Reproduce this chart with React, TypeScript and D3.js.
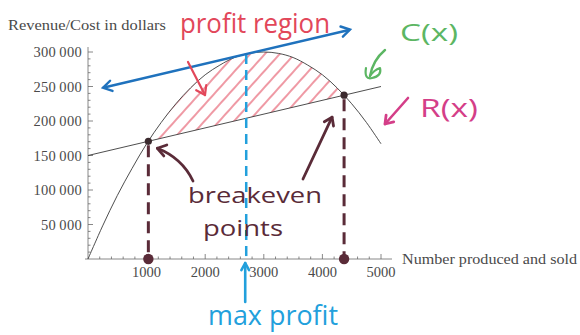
import React from "react";
import * as d3 from "d3";

// Units produced and sold, sampled along the revenue curve
const units = [0, 250, 500, 750, 1000, 1250, 1500, 1750, 2000, 2250, 2500, 2750, 3000, 3250, 3500, 3750, 4000, 4250, 4500, 4750, 5000];
// Revenue R(x) in dollars at each sample
const revenue = [0, 48000, 92000, 131000, 167000, 198000, 225000, 248000, 267000, 281000, 292000, 298000, 300000, 298000, 292000, 281000, 267000, 248000, 225000, 198000, 167000];
// Cost C(x): straight line
const costUnits = [0, 5000];
const cost = [150000, 250000];
// Break-even points (R = C)
const breakevenUnits = [1030, 4370];
const breakevenValues = [170600, 237400];
// Maximum profit: tangent to R(x) parallel to C(x)
const maxProfitUnits = 2700;
const maxProfitRevenue = 297000;
const tangentUnits = [256, 4471];
const tangentValues = [248100, 332400];

const xTicks = [1000, 2000, 3000, 4000, 5000];
const yTicks = [50000, 100000, 150000, 200000, 250000, 300000];

const W = 580;
const H = 335;

const x = d3.scaleLinear().domain([0, 5000]).range([88, 381]);
const y = d3.scaleLinear().domain([0, 300000]).range([259, 52]);

const fmt = (v: number) => {
  const s = String(v);
  return s.length > 4 ? s.slice(0, s.length - 3) + "\u2009" + s.slice(-3) : s;
};

const SERIF = "'Liberation Serif', 'Times New Roman', serif";
const HAND = "'Open Sans', 'Noto Sans', sans-serif";

const RED = "#e2475a";
const BLUE = "#1f72bd";
const LBLUE = "#22a0dc";
const GREEN = "#5cb663";
const PINK = "#d43e88";
const MAROON = "#5a2b38";

// arrow head strokes at the end of a segment
function head(tx: number, ty: number, fx: number, fy: number, len = 9, ang = 0.5) {
  const a = Math.atan2(ty - fy, tx - fx);
  const p1 = [tx - len * Math.cos(a - ang), ty - len * Math.sin(a - ang)];
  const p2 = [tx - len * Math.cos(a + ang), ty - len * Math.sin(a + ang)];
  return `M${p1[0]},${p1[1]}L${tx},${ty}L${p2[0]},${p2[1]}`;
}

export default function App() {
  const pts: [number, number][] = units.map((u, i) => [u, revenue[i]]);
  const line = d3
    .line<[number, number]>()
    .x((d) => x(d[0]))
    .y((d) => y(d[1]))
    .curve(d3.curveCatmullRom);
  const revPath = line(pts) || "";
  const costPts: [number, number][] = costUnits.map((u, i) => [u, cost[i]]);
  const costPath = d3.line<[number, number]>().x((d) => x(d[0])).y((d) => y(d[1]))(costPts) || "";

  const revClip = `${revPath}L${x(5000)},${y(0)}L${x(0)},${y(0)}Z`;
  const costClip = `M${x(0)},${y(cost[0])}L${x(5000)},${y(cost[1])}L${x(5000)},0L${x(0)},0Z`;

  const minorY = d3.range(10000, 300001, 10000).filter((v) => v % 50000 !== 0);
  const minorX = d3.range(200, 5001, 200).filter((v) => v % 1000 !== 0);

  const t0 = [x(tangentUnits[0]), y(tangentValues[0])];
  const t1 = [x(tangentUnits[1]), y(tangentValues[1])];

  const be = breakevenUnits.map((u, i) => [x(u), y(breakevenValues[i])]);

  return (
    <svg width={W} height={H} viewBox={`0 0 ${W} ${H}`} style={{ display: "block", position: "absolute", left: 0, top: 0, background: "#fff" }}>
      <defs>
        <pattern id="hatch" patternUnits="userSpaceOnUse" width={11} height={10} patternTransform="rotate(42)">
          <line x1={2} y1={0} x2={2} y2={10} stroke={RED} strokeWidth={1.3} strokeOpacity={0.85} />
        </pattern>
        <clipPath id="revClip">
          <path d={revClip} />
        </clipPath>
        <clipPath id="costClip">
          <path d={costClip} />
        </clipPath>
      </defs>

      {/* profit region hatching */}
      <g clipPath="url(#revClip)">
        <g clipPath="url(#costClip)">
          <rect x={x(breakevenUnits[0]) + 3} y={0} width={x(breakevenUnits[1]) - x(breakevenUnits[0]) - 6} height={H} fill="url(#hatch)" />
        </g>
      </g>

      {/* axes */}
      <g stroke="#6a6a6a" strokeWidth={0.8} fill="none">
        <line x1={85} y1={y(0)} x2={392} y2={y(0)} />
        <line x1={x(0)} y1={y(0)} x2={x(0)} y2={47} />
        {yTicks.map((v) => (
          <line key={v} x1={x(0)} x2={x(0) + 5} y1={y(v)} y2={y(v)} />
        ))}
        {minorY.map((v) => (
          <line key={v} x1={x(0)} x2={x(0) + 2.5} y1={y(v)} y2={y(v)} />
        ))}
        {xTicks.map((v) => (
          <line key={v} x1={x(v)} x2={x(v)} y1={y(0)} y2={y(0) - 5} />
        ))}
        {minorX.map((v) => (
          <line key={v} x1={x(v)} x2={x(v)} y1={y(0)} y2={y(0) - 2.5} />
        ))}
      </g>
      <g fontFamily={SERIF} fontSize={14.5} fill="#4a4a4a">
        {yTicks.map((v) => (
          <text key={v} x={x(0) - 6} y={y(v) + 5} textAnchor="end" letterSpacing={0.3}>
            {fmt(v)}
          </text>
        ))}
        {xTicks.map((v) => (
          <text key={v} x={x(v)} y={y(0) + 18} textAnchor="middle">
            {fmt(v)}
          </text>
        ))}
        <text x={8} y={30} fontSize={14} textLength={158} lengthAdjust="spacingAndGlyphs">Revenue/Cost in dollars</text>
        <text x={402} y={264} fontSize={14.5} textLength={175} lengthAdjust="spacingAndGlyphs">Number produced and sold</text>
      </g>

      {/* curves */}
      <path d={revPath} fill="none" stroke="#3a3a3a" strokeWidth={0.9} />
      <path d={costPath} fill="none" stroke="#3a3a3a" strokeWidth={0.9} />

      {/* max profit marker */}
      <line x1={x(maxProfitUnits)} x2={x(maxProfitUnits)} y1={y(maxProfitRevenue)} y2={y(0) + 2} stroke={LBLUE} strokeWidth={2.5} strokeDasharray="10 6" />
      <line x1={t0[0]} y1={t0[1]} x2={t1[0]} y2={t1[1]} stroke={BLUE} strokeWidth={2.6} />
      <path d={head(t1[0], t1[1], t0[0], t0[1], 10, 0.55)} fill="none" stroke={BLUE} strokeWidth={2.4} strokeLinecap="round" />
      <path d={head(t0[0], t0[1], t1[0], t1[1], 10, 0.55)} fill="none" stroke={BLUE} strokeWidth={2.4} strokeLinecap="round" />

      {/* break-even markers */}
      {be.map(([bx, by], i) => (
        <g key={i}>
          <line x1={bx} x2={bx} y1={by + 4} y2={y(0)} stroke={MAROON} strokeWidth={3} strokeDasharray="12 7" />
          <circle cx={bx} cy={by} r={3.6} fill="#3b2a2e" />
          <circle cx={bx} cy={y(0)} r={5.2} fill={MAROON} />
        </g>
      ))}

      {/* annotations */}
      <g fontFamily={HAND} fontWeight={400}>
        <text x={180} y={33} fontSize={27} fill={RED} textLength={150} lengthAdjust="spacingAndGlyphs">profit region</text>
        <text x={400} y={41} fontSize={24} fill={GREEN} textLength={58} lengthAdjust="spacingAndGlyphs">C(x)</text>
        <text x={420} y={117} fontSize={26} fill={PINK} textLength={58} lengthAdjust="spacingAndGlyphs">R(x)</text>
        <text x={188} y={203} fontSize={22} fill={MAROON} textLength={134} lengthAdjust="spacingAndGlyphs">breakeven</text>
        <text x={203} y={236} fontSize={22} fill={MAROON} textLength={80} lengthAdjust="spacingAndGlyphs">points</text>
        <text x={208} y={325} fontSize={27} fill={LBLUE} textLength={130} lengthAdjust="spacingAndGlyphs">max profit</text>
      </g>

      <g fill="none" strokeLinecap="round" strokeLinejoin="round">
        <path d="M188,62 L205,95" stroke={RED} strokeWidth={2.2} />
        <path d={head(205, 95, 188, 62, 10, 0.6)} stroke={RED} strokeWidth={2.2} />

        <path d={`M${x(maxProfitUnits) - 1},302 L${x(maxProfitUnits) - 1},263`} stroke={LBLUE} strokeWidth={2.6} />
        <path d={head(x(maxProfitUnits) - 1, 263, x(maxProfitUnits) - 1, 302, 8, 0.5)} stroke={LBLUE} strokeWidth={2.6} />

        <path d="M385,50 Q373,60 370,76" stroke={GREEN} strokeWidth={2.4} />
        <path d="M366,68 Q364,80 372,78 Q382,76 380,68 Q374,70 370,76" stroke={GREEN} strokeWidth={2.2} />

        <path d="M408,98 L385,124" stroke={PINK} strokeWidth={2.6} />
        <path d={head(385, 124, 408, 98, 9, 0.6)} stroke={PINK} strokeWidth={2.8} />

        <path d={`M193,181 Q182,158 ${be[0][0] + 9},${be[0][1] + 7}`} stroke={MAROON} strokeWidth={2.8} />
        <path d={head(be[0][0] + 9, be[0][1] + 7, 178, 154, 10, 0.6)} stroke={MAROON} strokeWidth={2.8} />

        <path d={`M303,179 L${be[1][0] - 12},${be[1][1] + 22}`} stroke={MAROON} strokeWidth={2.8} />
        <path d={head(be[1][0] - 12, be[1][1] + 22, 303, 179, 9, 0.6)} stroke={MAROON} strokeWidth={2.8} />
      </g>
    </svg>
  );
}
